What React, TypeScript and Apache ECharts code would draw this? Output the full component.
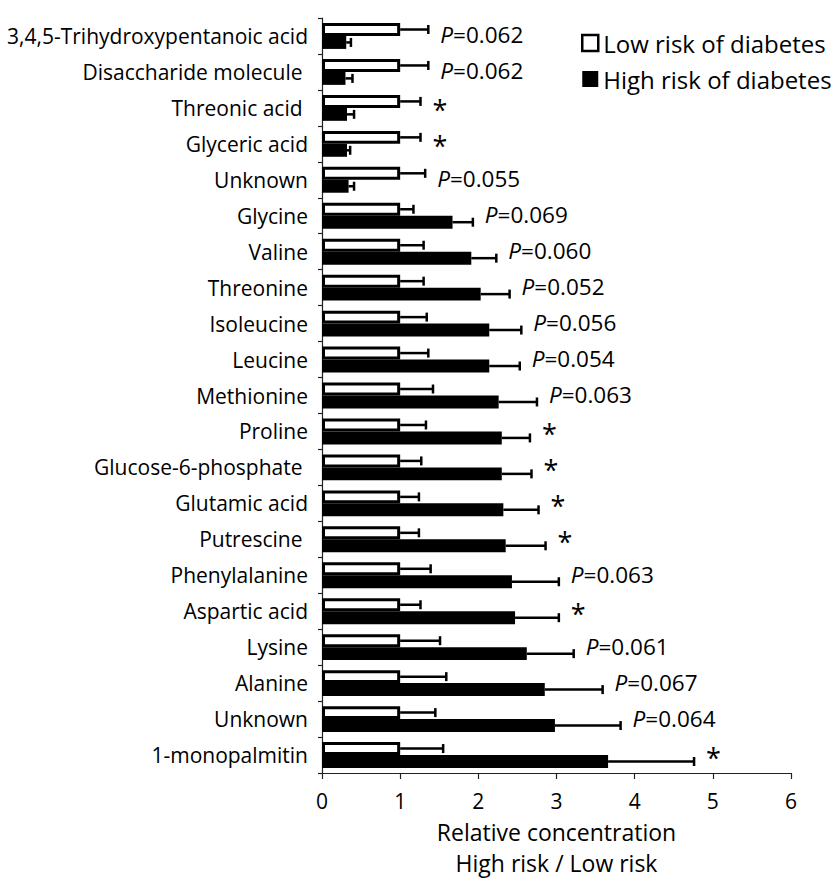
import React, { useEffect, useRef } from "react";
import * as echarts from "echarts";

const categories = [
  "3,4,5-Trihydroxypentanoic acid",
  "Disaccharide molecule ",
  "Threonic acid ",
  "Glyceric acid",
  "Unknown",
  "Glycine",
  "Valine",
  "Threonine",
  "Isoleucine",
  "Leucine",
  "Methionine",
  "Proline",
  "Glucose-6-phosphate ",
  "Glutamic acid",
  "Putrescine ",
  "Phenylalanine",
  "Aspartic acid",
  "Lysine",
  "Alanine",
  "Unknown",
  "1-monopalmitin",
];

const lowRisk = [1, 1, 1, 1, 1, 1, 1, 1, 1, 1, 1, 1, 1, 1, 1, 1, 1, 1, 1, 1, 1];
const lowRiskUpper = [1.36, 1.36, 1.26, 1.26, 1.32, 1.17, 1.3, 1.3, 1.34, 1.36, 1.42, 1.33, 1.27, 1.24, 1.24, 1.39, 1.26, 1.51, 1.59, 1.45, 1.55];
const highRisk = [0.31, 0.3, 0.32, 0.32, 0.34, 1.67, 1.91, 2.03, 2.14, 2.14, 2.26, 2.3, 2.3, 2.32, 2.35, 2.43, 2.47, 2.62, 2.85, 2.98, 3.66];
const highRiskUpper = [0.37, 0.39, 0.41, 0.36, 0.41, 1.93, 2.23, 2.4, 2.55, 2.53, 2.75, 2.66, 2.68, 2.77, 2.86, 3.03, 3.03, 3.22, 3.59, 3.82, 4.76];
const annotations = [
  "P=0.062", "P=0.062", "*", "*", "P=0.055", "P=0.069", "P=0.060", "P=0.052", "P=0.056", "P=0.054",
  "P=0.063", "*", "*", "*", "*", "P=0.063", "*", "P=0.061", "P=0.067", "P=0.064", "*",
];
const xTicks = [0, 1, 2, 3, 4, 5, 6];

const FONT = "Open Sans";
const BAR_FRAC = 0.36;

export default function App() {
  const ref = useRef<HTMLDivElement>(null);
  useEffect(() => {
    if (!ref.current) return;
    const chart = echarts.init(ref.current, null, { renderer: "svg" });

    const errRender = (sign: number) => (params: any, api: any) => {
      const band = api.size([0, 1])[1];
      const off = sign * band * BAR_FRAC / 2;
      const p0 = api.coord([api.value(0), api.value(2)]);
      const p1 = api.coord([api.value(1), api.value(2)]);
      const y = p0[1] + off;
      const style = { stroke: "#000", lineWidth: 2.5 };
      return {
        type: "group",
        children: [
          { type: "line", shape: { x1: p0[0], y1: y, x2: p1[0], y2: y }, style },
          { type: "line", shape: { x1: p1[0], y1: y - 4.5, x2: p1[0], y2: y + 4.5 }, style },
        ],
      };
    };

    const annRender = (params: any, api: any) => {
      const p = api.coord([api.value(0), api.value(1)]);
      const t = annotations[params.dataIndex];
      const isStar = t === "*";
      const text = isStar ? "*" : "{i|P}" + t.slice(1);
      return {
        type: "text",
        x: p[0] + 12,
        y: p[1] + (isStar ? 2 : -1),
        style: {
          text,
          fontSize: isStar ? 27 : 22.5,
          fontFamily: FONT,
          fill: "#000",
          align: "left",
          verticalAlign: "middle",
          rich: { i: { fontStyle: "italic", fontSize: 22.5, fontFamily: FONT, fill: "#000" } },
        },
      };
    };

    chart.setOption({
      animation: false,
      backgroundColor: "#fff",
      textStyle: { fontFamily: FONT },
      legend: {
        orient: "vertical",
        left: 576,
        top: 26,
        itemWidth: 16,
        itemHeight: 16,
        itemGap: 12,
        textStyle: { fontSize: 24, color: "#000", fontFamily: FONT },
        data: [
          { name: "Low risk of diabetes", icon: "rect", itemStyle: { color: "#fff", borderColor: "#000", borderWidth: 2.5 } },
          { name: "High risk of diabetes", icon: "rect", itemStyle: { color: "#000" } },
        ],
      },
      grid: { left: 322, right: 46, top: 18, bottom: 107, containLabel: false, outerBoundsMode: "none" },
      xAxis: {
        type: "value",
        min: xTicks[0],
        max: xTicks[xTicks.length - 1],
        interval: 1,
        splitLine: { show: false },
        axisLine: { show: true, lineStyle: { color: "#222", width: 1.2 } },
        axisTick: { show: true, length: 6, lineStyle: { color: "#222", width: 1.2 } },
        axisLabel: { fontSize: 21, color: "#000", margin: 17, fontFamily: FONT },
        name: "Relative concentration\nHigh risk / Low risk",
        nameLocation: "middle",
        nameGap: 43.5,
        nameTextStyle: { fontSize: 23, color: "#000", lineHeight: 31, fontFamily: FONT },
      },
      yAxis: {
        type: "category",
        inverse: true,
        data: categories,
        axisLine: { show: true, lineStyle: { color: "#222", width: 1.2 } },
        axisTick: { show: true, length: 4, lineStyle: { color: "#222", width: 1.2 } },
        axisLabel: { fontSize: 21, color: "#000", margin: 14, fontFamily: FONT },
      },
      series: [
        {
          name: "Low risk of diabetes",
          type: "bar",
          data: lowRisk,
          barWidth: BAR_FRAC * 100 + "%",
          barGap: "0%",
          itemStyle: { color: "#fff", borderColor: "#000", borderWidth: 3 },
          z: 2,
        },
        {
          name: "High risk of diabetes",
          type: "bar",
          data: highRisk,
          barWidth: BAR_FRAC * 100 + "%",
          barGap: "0%",
          itemStyle: { color: "#000" },
          z: 2,
        },
        {
          type: "custom",
          renderItem: errRender(-1),
          encode: { x: [0, 1], y: 2 },
          data: lowRisk.map((v, i) => [v, lowRiskUpper[i], i]),
          z: 3,
        },
        {
          type: "custom",
          renderItem: errRender(1),
          encode: { x: [0, 1], y: 2 },
          data: highRisk.map((v, i) => [v, highRiskUpper[i], i]),
          z: 3,
        },
        {
          type: "custom",
          renderItem: annRender,
          encode: { x: 0, y: 1 },
          data: lowRiskUpper.map((v, i) => [Math.max(v, highRiskUpper[i]), i]),
          z: 4,
        },
      ],
    });
    return () => chart.dispose();
  }, []);
  return <div ref={ref} style={{ position: "absolute", left: 0, top: 0, width: 837, height: 880 }} />;
}
